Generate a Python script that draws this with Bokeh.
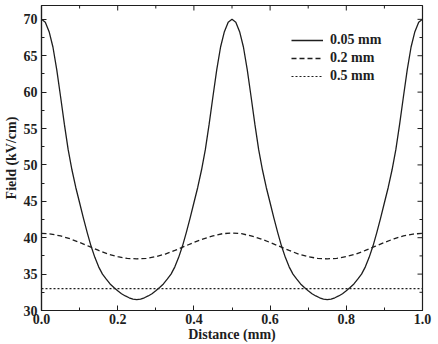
import math

from bokeh.plotting import figure
from bokeh.models import Range1d, FixedTicker, Legend, LegendItem, NumeralTickFormatter
from bokeh.embed import file_html
from bokeh.resources import INLINE

# Field along the electrode gap for three electrode spacings
distance_005 = [
    0.00, 0.01, 0.02, 0.03, 0.04, 0.05, 0.06, 0.07, 0.08, 0.09,
    0.10, 0.11, 0.12, 0.13, 0.14, 0.15, 0.16, 0.17, 0.18, 0.19,
    0.20, 0.21, 0.22, 0.23, 0.24, 0.25, 0.26, 0.27, 0.28, 0.29,
    0.30, 0.31, 0.32, 0.33, 0.34, 0.35, 0.36, 0.37, 0.38, 0.39,
    0.40, 0.41, 0.42, 0.43, 0.44, 0.45, 0.46, 0.47, 0.48, 0.49,
    0.50, 0.51, 0.52, 0.53, 0.54, 0.55, 0.56, 0.57, 0.58, 0.59,
    0.60, 0.61, 0.62, 0.63, 0.64, 0.65, 0.66, 0.67, 0.68, 0.69,
    0.70, 0.71, 0.72, 0.73, 0.74, 0.75, 0.76, 0.77, 0.78, 0.79,
    0.80, 0.81, 0.82, 0.83, 0.84, 0.85, 0.86, 0.87, 0.88, 0.89,
    0.90, 0.91, 0.92, 0.93, 0.94, 0.95, 0.96, 0.97, 0.98, 0.99,
    1.00,
]
field_005 = [
    70.0, 69.6, 68.3, 66.2, 63.1, 59.4, 55.6, 52.1, 49.3, 46.9,
    44.8, 42.7, 40.7, 38.85, 37.3, 36.0, 35.0, 34.3, 33.65, 33.15,
    32.7, 32.3, 32.0, 31.75, 31.57, 31.5, 31.57, 31.75, 32.0, 32.3,
    32.7, 33.15, 33.65, 34.3, 35.0, 36.0, 37.3, 38.85, 40.7, 42.7,
    44.8, 46.9, 49.3, 52.1, 55.6, 59.4, 63.1, 66.2, 68.3, 69.6,
    70.0, 69.6, 68.3, 66.2, 63.1, 59.4, 55.6, 52.1, 49.3, 46.9,
    44.8, 42.7, 40.7, 38.85, 37.3, 36.0, 35.0, 34.3, 33.65, 33.15,
    32.7, 32.3, 32.0, 31.75, 31.57, 31.5, 31.57, 31.75, 32.0, 32.3,
    32.7, 33.15, 33.65, 34.3, 35.0, 36.0, 37.3, 38.85, 40.7, 42.7,
    44.8, 46.9, 49.3, 52.1, 55.6, 59.4, 63.1, 66.2, 68.3, 69.6,
    70.0,
]

distance_02 = [
    0.000, 0.025, 0.050, 0.075, 0.100, 0.125, 0.150, 0.175, 0.200, 0.225,
    0.250, 0.275, 0.300, 0.325, 0.350, 0.375, 0.400, 0.425, 0.450, 0.475,
    0.500, 0.525, 0.550, 0.575, 0.600, 0.625, 0.650, 0.675, 0.700, 0.725,
    0.750, 0.775, 0.800, 0.825, 0.850, 0.875, 0.900, 0.925, 0.950, 0.975,
    1.000,
]
field_02 = [
    40.6, 40.5, 40.25, 39.85, 39.35, 38.8, 38.25, 37.75, 37.4, 37.15,
    37.1, 37.15, 37.4, 37.75, 38.25, 38.8, 39.35, 39.85, 40.25, 40.55,
    40.65, 40.55, 40.25, 39.85, 39.35, 38.8, 38.25, 37.75, 37.4, 37.15,
    37.1, 37.15, 37.4, 37.75, 38.25, 38.8, 39.35, 39.85, 40.25, 40.5,
    40.6,
]

distance_05 = [0.0, 0.25, 0.5, 0.75, 1.0]
field_05 = [33.0, 33.0, 33.0, 33.0, 33.0]

x_ticks = [0.0, 0.2, 0.4, 0.6, 0.8, 1.0]
x_minor = [0.1, 0.3, 0.5, 0.7, 0.9]
y_ticks = [30, 35, 40, 45, 50, 55, 60, 65, 70]
y_minor = [32.5, 37.5, 42.5, 47.5, 52.5, 57.5, 62.5, 67.5]

X_MIN, X_MAX = 0.0, 1.0
Y_MIN, Y_MAX = 30.0, 71.9

FONT = "Liberation Serif"
INK = "#1e1e1e"

p = figure(
    width=438, height=344,
    x_range=Range1d(X_MIN, X_MAX), y_range=Range1d(Y_MIN, Y_MAX),
    output_backend="svg", toolbar_location=None,
    x_axis_label="Distance (mm)", y_axis_label="Field (kV/cm)",
    min_border_left=4, min_border_right=16, min_border_top=5, min_border_bottom=0,
)
p.background_fill_color = "white"
p.border_fill_color = "white"
p.outline_line_color = INK
p.outline_line_width = 1.2
p.xgrid.visible = False
p.ygrid.visible = False

r1 = p.line(distance_005, field_005, line_color=INK, line_width=1.3)
r2 = p.line(distance_02, field_02, line_color=INK, line_width=1.3, line_dash="5 3")
r3 = p.line(distance_05, field_05, line_color=INK, line_width=1.2, line_dash="2 2")


def style_axis(ax, ticks, minor):
    ax.ticker = FixedTicker(ticks=ticks, minor_ticks=minor)
    ax.axis_line_color = INK
    ax.axis_line_width = 1.2
    ax.major_tick_line_color = INK
    ax.minor_tick_line_color = INK
    ax.major_tick_in = 5
    ax.major_tick_out = 0
    ax.minor_tick_in = 3
    ax.minor_tick_out = 0
    ax.major_label_text_font = FONT
    ax.major_label_text_font_style = "bold"
    ax.major_label_text_color = INK
    ax.major_label_text_font_size = "14px"
    ax.axis_label_text_font = FONT
    ax.axis_label_text_font_style = "bold"
    ax.axis_label_text_color = INK
    ax.axis_label_text_font_size = "14px"


xa = p.xaxis[0]
style_axis(xa, x_ticks, x_minor)
xa.formatter = NumeralTickFormatter(format="0.0")
xa.major_label_standoff = 3
xa.axis_label_standoff = 0

ya = p.yaxis[0]
style_axis(ya, y_ticks, y_minor)
ya.major_label_standoff = 4
ya.axis_label_standoff = 2

# Mirrored inward ticks along the top and right edges of the frame
p.ray(x=x_ticks, y=[Y_MAX] * len(x_ticks), length=5, length_units="screen",
      angle=-math.pi / 2, line_color=INK, line_width=1)
p.ray(x=x_minor, y=[Y_MAX] * len(x_minor), length=3, length_units="screen",
      angle=-math.pi / 2, line_color=INK, line_width=1)
p.ray(x=[X_MAX] * len(y_ticks), y=y_ticks, length=5, length_units="screen",
      angle=math.pi, line_color=INK, line_width=1)
p.ray(x=[X_MAX] * len(y_minor), y=y_minor, length=3, length_units="screen",
      angle=math.pi, line_color=INK, line_width=1)

legend = Legend(
    items=[
        LegendItem(label="0.05 mm", renderers=[r1]),
        LegendItem(label="0.2 mm", renderers=[r2]),
        LegendItem(label="0.5 mm", renderers=[r3]),
    ],
    location=(250, 225),
    label_text_font=FONT,
    label_text_font_style="bold",
    label_text_font_size="14px",
    label_text_color=INK,
    label_height=18,
    glyph_height=18,
    glyph_width=32,
    label_standoff=7,
    spacing=0,
    padding=0,
    margin=0,
    border_line_color=None,
    background_fill_alpha=0,
)
p.add_layout(legend, "center")

open("out.html", "w").write(file_html(p, INLINE))
